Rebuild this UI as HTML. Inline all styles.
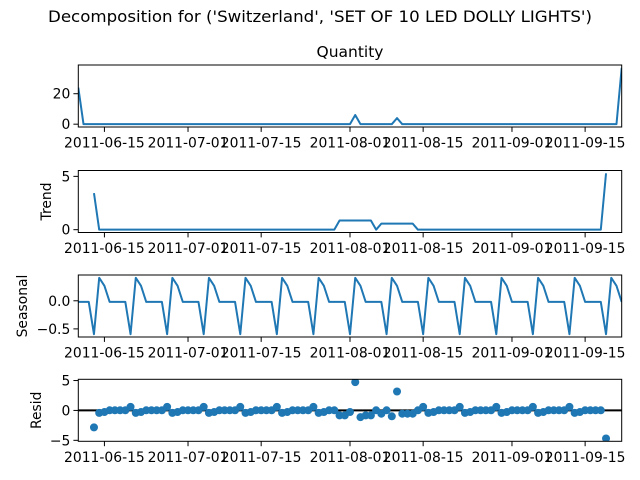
<!DOCTYPE html>
<html><head><meta charset="utf-8">
<style>
html,body{margin:0;padding:0;background:#fff;}
svg{display:block;font-family:"DejaVu Sans","Liberation Sans",sans-serif;}
</style></head>
<body>
<svg id="chart" width="640" height="480" viewBox="0 0 640 480">
<text x="320" y="22" text-anchor="middle" font-size="16" textLength="544" lengthAdjust="spacingAndGlyphs">Decomposition for ('Switzerland', 'SET OF 10 LED DOLLY LIGHTS')</text>
<text x="350" y="57" text-anchor="middle" font-size="15.5">Quantity</text>
</svg>
<script>
// ---- data ----
const startDate = "2011-06-10";
const observed = [24,
0,0,0,0,0,0,0,0,0,0,0,0,0,0,0,0,0,0,0,0,0,0,0,0,0,0,
0,0,0,0,0,0,0,0,0,0,0,0,0,0,0,0,0,0,0,0,0,0,0,0,0,0,
6,
0,0,0,0,0,0,0,
4,
0,0,0,0,0,0,0,0,0,0,0,0,0,0,0,0,0,0,0,0,0,
0,0,0,0,0,0,0,0,0,0,0,0,0,0,0,0,0,0,0,0,0,
37];
const period = 7;
const xTickLabels = ["2011-06-15","2011-07-01","2011-07-15","2011-08-01","2011-08-15","2011-09-01","2011-09-15"];
const quantityTicks = [0, 20];
const trendTicks = [0, 5];
const seasonalTicks = [-0.5, 0.0];
const residTicks = [-5, 0, 5];

// ---- decomposition (additive, centered MA) ----
const n = observed.length;
const half = Math.floor(period/2);
const trend = observed.map((v,i)=>{
  if(i<half||i>=n-half) return null;
  let s=0; for(let k=i-half;k<=i+half;k++) s+=observed[k]; return s/period;
});
const phaseMean=[];
for(let p=0;p<period;p++){
  let s=0,c=0;
  for(let i=p;i<n;i+=period){ if(trend[i]!==null){s+=observed[i]-trend[i];c++;} }
  phaseMean.push(c?s/c:0);
}
const pm = phaseMean.reduce((a,b)=>a+b,0)/period;
const seasonal = observed.map((v,i)=>phaseMean[i%period]-pm);
const resid = observed.map((v,i)=>trend[i]===null?null:v-trend[i]-seasonal[i]);

// ---- layout ----
const svg=document.getElementById('chart');
const NS='http://www.w3.org/2000/svg';
const X0=78.3, X1=621.7;
const day0=Date.parse(startDate+"T00:00:00Z");
const dayOf=s=>(Date.parse(s+"T00:00:00Z")-day0)/86400000;
const xs=d=>X0+(X1-X0)*d/(n-1);
function mk(tag,attrs,parent){const e=document.createElementNS(NS,tag);for(const k in attrs)e.setAttribute(k,attrs[k]);(parent||svg).appendChild(e);return e;}
function fmt(v,dec){return (v<0?"\u2212":"")+Math.abs(v).toFixed(dec);}

const panels=[
 {key:"quantity",data:observed,ticks:quantityTicks,dec:0,top:65,label:null,lx:0,type:"line"},
 {key:"trend",data:trend,ticks:trendTicks,dec:0,top:170.5,label:"Trend",lx:51,type:"line"},
 {key:"seasonal",data:seasonal,ticks:seasonalTicks,dec:1,top:275,label:"Seasonal",lx:27,type:"line"},
 {key:"resid",data:resid,ticks:residTicks,dec:0,top:379.3,label:"Resid",lx:41,type:"scatter"}
];
const H=62;
panels.forEach(p=>{
  const g=mk('g',{});
  
  
  const vals=p.data.filter(v=>v!==null);
  let mn=Math.min(...vals), mx=Math.max(...vals);
  const r=mx-mn||1; mn-=r*0.05; mx+=r*0.05;
  const ys=v=>p.top+H-(v-mn)/(mx-mn)*H;
  const bot=p.top+H;
  const clipId='clip-'+p.key;
  const cp=mk('clipPath',{id:clipId},g);
  mk('rect',{x:X0,y:p.top,width:X1-X0,height:H},cp);
  if(p.type==="line"){
    let d="",pen=false;
    p.data.forEach((v,i)=>{ if(v===null){pen=false;return;} d+=(pen?"L":"M")+xs(i).toFixed(2)+","+ys(v).toFixed(2); pen=true; });
    const path=mk('path',{d:d,fill:'none',stroke:'#1f77b4','stroke-width':2,'stroke-linejoin':'round','clip-path':'url(#'+clipId+')'},g);
    
    
  } else {
    const zl=mk('line',{x1:X0,x2:X1,y1:ys(0),y2:ys(0),stroke:'#000','stroke-width':2},g);
    
    
    p.data.forEach((v,i)=>{ if(v===null)return;
      const c=mk('circle',{cx:xs(i),cy:ys(v),r:4,fill:'#1f77b4','clip-path':'url(#'+clipId+')'},g);
      
      
    });
  }
  const fr=mk('rect',{x:X0,y:p.top,width:X1-X0,height:H,fill:'none',stroke:'#000','stroke-width':1},g);
  
  
  p.ticks.forEach(t=>{
    const y=ys(t);
    mk('line',{x1:X0-4.9,x2:X0,y1:y,y2:y,stroke:'#000','stroke-width':1},g);
    const tx=mk('text',{x:X0-8,y:y+5,'text-anchor':'end','font-size':13.9},g);
    tx.textContent=fmt(t,p.dec);
    
    
  });
  xTickLabels.forEach(s=>{
    const x=xs(dayOf(s));
    mk('line',{x1:x,x2:x,y1:bot,y2:bot+4.9,stroke:'#000','stroke-width':1},g);
    const tx=mk('text',{x:x,y:bot+20.5,'text-anchor':'middle','font-size':13.9},g);
    tx.textContent=s;
    
    
  });
  if(p.label){
    const cy=p.top+H/2;
    const lt=mk('text',{x:0,y:0,'text-anchor':'middle','font-size':13.9,transform:'translate('+p.lx+','+cy+') rotate(-90)'},g);
    lt.textContent=p.label;
    
    
  }
});
</script>
</body></html>
